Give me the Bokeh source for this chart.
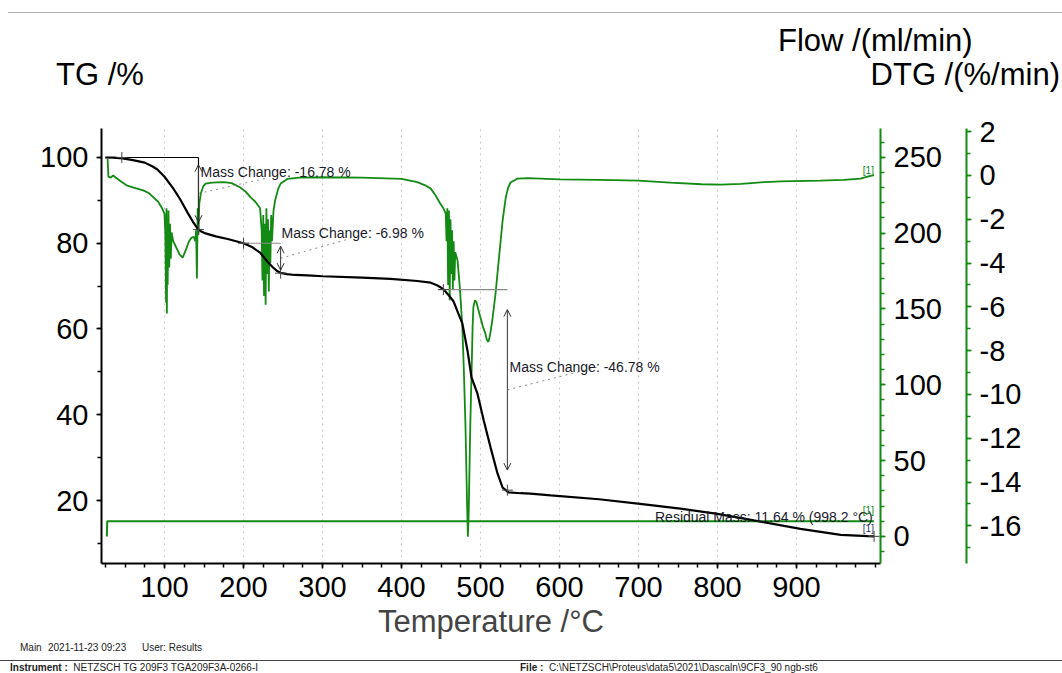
from bokeh.plotting import figure
from bokeh.models import (Range1d, LinearAxis, FixedTicker, Label, Arrow, OpenHead, Div)
from bokeh.layouts import column
from bokeh.embed import file_html
from bokeh.resources import INLINE

FONT = "Liberation Sans"
GREEN = "#138a13"

# ---------------- data ----------------
tg_temp = [25, 35, 47, 60, 75, 85, 91, 100, 111, 120, 129, 136, 142, 146, 152, 165, 180, 200,
           210, 221, 229, 237, 242, 247, 255, 265, 281, 300, 350, 386, 420, 437, 445, 453, 460,
           466, 472, 477, 483.5, 488.6, 496, 504, 512.7, 521.5, 528, 535.4, 551, 563, 589, 650,
           702, 753, 800, 846, 905, 956, 990, 998.2]
tg_mass = [100.0, 99.95, 99.8, 99.4, 98.8, 97.9, 97.2, 95.5, 92.8, 90.2, 87.2, 85.0, 83.4, 82.8,
           82.3, 81.6, 81.0, 80.0, 79.2, 77.8, 76.0, 74.4, 73.6, 73.1, 72.8, 72.6, 72.5, 72.3, 72.0,
           71.7, 71.2, 70.8, 70.2, 69.3, 67.8, 66.4, 63.6, 61.3, 55.0, 48.7, 45.0, 38.7, 32.4, 26.3,
           23.0, 21.9, 21.7, 21.6, 21.2, 20.3, 19.2, 18.1, 16.9, 15.35, 13.4, 12.0, 11.7, 11.64]

dtg_temp = [28, 29, 32, 35, 44, 52, 61, 73, 80, 86, 92, 97, 100,
            101, 102, 102.5, 103, 103.5, 104, 105, 106, 107, 108, 109,
            111, 115, 119, 123, 127, 131, 134, 137, 139, 140, 141, 142, 143, 144, 146, 149, 152,
            160, 175, 185, 196, 203, 209, 215, 221,
            223, 224, 225, 226, 227, 228, 229, 230, 231, 232, 233, 234, 235, 236, 238,
            240, 244, 247, 256, 270, 300, 350, 400, 420, 430, 437, 443, 449, 453, 456,
            457, 458, 459, 460, 461, 462, 463, 464, 465, 466, 467, 468,
            471, 474, 477, 479, 481, 483, 484, 485, 487, 489, 490, 491, 493, 495, 497, 500, 503,
            506, 508, 510, 512, 515, 519, 523, 528, 532, 535, 538, 547, 560, 600, 650, 700, 740,
            780, 804, 830, 860, 880, 930, 960, 981, 990, 998]
dtg_rate = [0.75, -0.05, -0.1, 0.0, -0.25, -0.45, -0.55, -0.68, -0.8, -1.0, -1.2, -1.5, -1.75,
            -2.6, -5.8, -1.5, -6.3, -2.0, -5.0, -1.6, -4.2, -2.2, -3.8, -2.6,
            -3.0, -3.3, -3.6, -3.75, -3.4, -3.0, -2.85, -2.8, -3.0, -2.5, -4.7, -1.5, -2.7, -1.3,
            -0.82, -0.5, -0.37,
            -0.33, -0.3, -0.35, -0.55, -0.75, -1.0, -1.2, -1.5,
            -2.5, -4.8, -1.8, -5.5, -2.2, -5.9, -1.5, -4.5, -2.0, -5.3, -2.5, -4.0, -1.8, -3.0, -1.6,
            -1.14, -0.6, -0.37, -0.15, -0.1, -0.08, -0.1, -0.15, -0.3, -0.45, -0.6, -0.9, -1.28,
            -1.5, -1.74,
            -3.0, -1.5, -5.0, -1.6, -5.7, -2.0, -4.5, -2.5, -5.2, -3.0, -4.8, -3.5,
            -3.9, -5.2, -6.9, -9.0, -11.5, -15.0, -16.5, -15.5, -11.5, -8.5, -6.9, -6.0, -5.7,
            -5.8, -6.1, -6.5, -6.9, -7.2, -7.5, -7.6, -7.3, -6.6, -5.4, -3.9, -2.05, -1.0, -0.55,
            -0.32, -0.14, -0.12, -0.18, -0.2, -0.23, -0.33, -0.4, -0.42, -0.38, -0.3, -0.27,
            -0.23, -0.2, -0.14, -0.05, 0.02]

flow_temp = [27, 27.5, 998]
flow_rate = [0, 10, 10]

x_ticks = [100, 200, 300, 400, 500, 600, 700, 800, 900]
tg_ticks = [20, 40, 60, 80, 100]
flow_ticks = [0, 50, 100, 150, 200, 250]
dtg_ticks = [-16, -14, -12, -10, -8, -6, -4, -2, 0, 2]

step_temp_start = [29, 196, 447]
step_temp_end = [143, 247, 534]
step_level = [100.0, 80.0, 69.2]
step_change = [-16.78, -6.98, -46.78]
step_onset_temp = [46, 200, 453]
residual_temp = 998.2
residual_mass = 11.64

# ---------------- figure ----------------
p = figure(width=1062, height=541, x_range=Range1d(20.25, 1006.3), y_range=Range1d(5.31, 106.76),
           output_backend="svg", toolbar_location=None,
           min_border_left=101, min_border_right=182, min_border_top=14, min_border_bottom=92,
           outline_line_color=None, background_fill_color="white", border_fill_color="white")
p.extra_y_ranges = {"flow": Range1d(-17.8, 268.95), "dtg": Range1d(-17.72, 2.146)}

def style_axis(ax, color):
    ax.axis_line_color = color
    ax.axis_line_width = 2
    ax.major_tick_line_color = color
    ax.minor_tick_line_color = color
    ax.major_tick_line_width = 1.5
    ax.minor_tick_line_width = 1.5
    ax.major_tick_in = 0
    ax.minor_tick_in = 0
    ax.major_tick_out = 5
    ax.minor_tick_out = 4
    ax.major_label_text_font = FONT
    ax.major_label_text_font_size = "29px"
    ax.major_label_text_color = "black"
    ax.major_label_standoff = 8

xa = p.xaxis[0]
style_axis(xa, "black")
xa.ticker = FixedTicker(ticks=x_ticks, minor_ticks=list(range(25, 1001, 25)))
xa.axis_label = "Temperature /°C"
xa.axis_label_text_font = FONT
xa.axis_label_text_font_size = "31px"
xa.axis_label_text_font_style = "normal"
xa.axis_label_standoff = 4

ya = p.yaxis[0]
style_axis(ya, "black")
ya.ticker = FixedTicker(ticks=tg_ticks, minor_ticks=list(range(10, 101, 10)))

p.xgrid.ticker = FixedTicker(ticks=x_ticks)
p.xgrid.grid_line_color = "#c8c8c8"
p.xgrid.grid_line_dash = "dotted"
p.ygrid.visible = False

flow_axis = LinearAxis(y_range_name="flow",
                       ticker=FixedTicker(ticks=flow_ticks, minor_ticks=list(range(-10, 270, 10))))
style_axis(flow_axis, GREEN)
flow_axis.axis_label = " "
flow_axis.axis_label_text_font_size = "16px"
flow_axis.axis_label_standoff = 2
p.add_layout(flow_axis, "right")

dtg_axis = LinearAxis(y_range_name="dtg",
                      ticker=FixedTicker(ticks=dtg_ticks, minor_ticks=list(range(-17, 3, 1))),
                      major_label_overrides={v: str(v) for v in dtg_ticks})
style_axis(dtg_axis, GREEN)
p.add_layout(dtg_axis, "right")

# ---------------- curves ----------------
p.line(flow_temp, flow_rate, y_range_name="flow", line_color=GREEN, line_width=2)
p.line(dtg_temp, dtg_rate, y_range_name="dtg", line_color=GREEN, line_width=1.8)
p.line(tg_temp, tg_mass, line_color="black", line_width=2.2)

# ---------------- evaluation annotations ----------------
step_end_level = [l + c for l, c in zip(step_level, step_change)]
p.segment(x0=step_temp_start, y0=step_level, x1=step_temp_end, y1=step_level,
          line_color=["black", "#8c8c8c", "#8c8c8c"], line_width=1.2)
p.segment(x0=[step_temp_end[0]], y0=[step_level[0]], x1=[step_temp_end[0]], y1=[step_end_level[0]],
          line_color="black", line_width=1.2)
for te, l0, l1, ch in zip(step_temp_end, step_level, step_end_level, step_change):
    inset = abs(ch) * 0.1
    p.add_layout(Arrow(x_start=te, y_start=l0 - inset, x_end=te, y_end=l1 + inset,
                       line_color="#333333", line_width=1,
                       start=OpenHead(size=7, line_color="#333333", line_width=1),
                       end=OpenHead(size=7, line_color="#333333", line_width=1)))

cross_t = step_onset_temp + step_temp_end + [residual_temp]
cross_m = step_level + step_end_level + [residual_mass]
p.scatter(cross_t, cross_m, marker="cross", size=11, line_color="#444444", line_width=1)

text_pos = [(145.6, 96.73), (248.1, 82.5), (536.7, 51.25)]
leader_end = [(227.8, 95.1), (335.4, 81.1), (651.9, 51.3)]
mids = [l + c / 2 for l, c in zip(step_level, step_change)]
p.segment(x0=step_temp_end, y0=mids, x1=[e[0] for e in leader_end], y1=[e[1] for e in leader_end],
          line_color="#8a8a8a", line_width=1, line_dash="dotted")
for (tx, ty), ch in zip(text_pos, step_change):
    p.add_layout(Label(x=tx, y=ty, text=f"Mass Change: {ch:.2f} %", text_font=FONT,
                       text_font_size="14px", text_color="#1a1a2a", text_baseline="alphabetic"))

p.add_layout(Label(x=996.5, y=16.04, text=f"Residual Mass: {residual_mass:.2f} % ({residual_temp:.1f} °C)",
                   text_font=FONT, text_font_size="14px", text_color="#1a1a2a",
                   text_align="right", text_baseline="alphabetic"))
p.add_layout(Label(x=998, y=95.6, text="[1]", text_font=FONT, text_font_size="10px",
                   text_color=GREEN, text_align="right"))
p.add_layout(Label(x=998, y=16.4, text="[1]", text_font=FONT, text_font_size="10px",
                   text_color=GREEN, text_align="right"))
p.add_layout(Label(x=998, y=12.3, text="[1]", text_font=FONT, text_font_size="10px",
                   text_color="#333366", text_align="right"))

# ---------------- header / footer (outside the plot) ----------------
hdr_font = "font-family:Liberation Sans,Arial,sans-serif;font-size:31px;line-height:31px;color:#000;white-space:nowrap;"
top_div = Div(text=('<div style="position:relative;width:1062px;height:114px;">'
                    '<div style="position:absolute;left:8px;top:12px;width:1054px;border-top:1px solid #b4b4b4;"></div>'
                    f'<div style="position:absolute;left:56px;top:59px;{hdr_font}">TG /%</div>'
                    f'<div style="position:absolute;left:778px;top:25px;{hdr_font}">Flow /(ml/min)</div>'
                    f'<div style="position:absolute;right:2px;top:59px;{hdr_font}">DTG /(%/min)</div>'
                    '</div>'),
              width=1062, height=114, margin=0)

ft = "font-family:Liberation Sans,Arial,sans-serif;font-size:10px;line-height:10px;color:#222;white-space:nowrap;"
foot_div = Div(text=('<div style="position:relative;width:1062px;height:33px;overflow:hidden;">'
                     f'<div style="position:absolute;left:20px;top:3px;{ft}">Main</div>'
                     f'<div style="position:absolute;left:48px;top:3px;{ft}">2021-11-23 09:23</div>'
                     f'<div style="position:absolute;left:142px;top:3px;{ft}">User: Results</div>'
                     '<div style="position:absolute;left:0px;top:20px;width:1062px;border-top:1px solid #444;"></div>'
                     f'<div style="position:absolute;left:10px;top:23px;{ft}"><b>Instrument :</b>&nbsp; NETZSCH TG 209F3 TGA209F3A-0266-I</div>'
                     f'<div style="position:absolute;left:520px;top:23px;{ft}"><b>File :</b>&nbsp; '
                     'C:\\NETZSCH\\Proteus\\data5\\2021\\Dascaln\\9CF3_90 ngb-st6</div>'
                     '</div>'),
               width=1062, height=33, margin=(-15, 0, 0, 0))

layout = column(top_div, p, foot_div, spacing=0)
open("out.html", "w").write(file_html(layout, INLINE))
